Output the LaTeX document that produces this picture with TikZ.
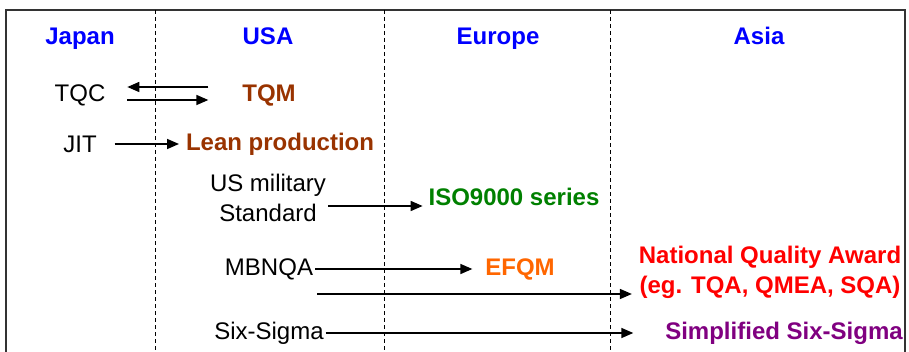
\documentclass[tikz,border=0pt]{standalone}
\usepackage{fontspec}
\setmainfont{Liberation Sans}
\usetikzlibrary{arrows.meta}
\definecolor{hdblue}{RGB}{0,0,255}
\definecolor{usbrown}{RGB}{153,51,0}
\definecolor{eugreen}{RGB}{0,128,0}
\definecolor{euorange}{RGB}{255,102,0}
\definecolor{asred}{RGB}{255,0,0}
\definecolor{aspurple}{RGB}{128,0,128}
\begin{document}
\begin{tikzpicture}[x=0.5pt,y=-0.5pt,
	every node/.style={inner sep=1pt,outer sep=0pt,font=\fontsize{12}{15}\selectfont},
	head/.style={anchor=base,text=hdblue,font=\fontsize{12}{15}\selectfont\bfseries},
	bold/.style={font=\fontsize{12}{15}\selectfont\bfseries},
	arr/.style={line width=0.8pt,-{Triangle[length=6pt,width=5pt]}}]
	\useasboundingbox (0,0) rectangle (909,352);
	% frame and columns
	\draw [line width=0.9pt,black!80] (6,352) -- (6,10) -- (905,10) -- (905,352);
	\foreach \x in {155,384,610}{
	\draw [line width=0.5pt,dash pattern=on 2pt off 1.5pt] (\x,10) -- (\x,352);
	}
	% headings
	\node [head] (japan) at (80,45) {Japan};
	\node [head] (usa) at (268,45) {USA};
	\node [head] (europe) at (498,45) {Europe};
	\node [head] (asia) at (759,45) {Asia};
	% entries
	\node (tqc) at (80,95) {TQC};
	\node [bold,text=usbrown] (tqm) at (269,95) {TQM};
	\node (jit) at (80,144) {JIT};
	\node [bold,text=usbrown] (lean) at (280,144) {Lean production};
	\node [align=center] (usmil) at (268,198) {US military\\Standard};
	\node [bold,text=eugreen] (iso) at (514,197) {ISO9000 series};
	\node (mbnqa) at (269,269) {MBNQA};
	\node [bold,text=euorange] (efqm) at (520,269) {EFQM};
	\node [bold,text=asred,align=center] (nqa) at (770,272) {National Quality Award\\(eg. TQA, QMEA, SQA)};
	\node (six) at (269,333) {Six-Sigma};
	\node [bold,text=aspurple] (simp) at (784,333) {Simplified Six-Sigma};
	% arrows
	\draw [arr,shorten <=16pt,shorten >=10pt] ([yshift=4pt]tqm.west) -- ([yshift=4pt]tqc.east);
	\draw [arr,shorten <=10pt,shorten >=16pt] ([yshift=-2.5pt]tqc.east) -- ([yshift=-2.5pt]tqm.west);
	\draw [arr,shorten <=8pt,shorten >=2.5pt] (jit) -- (lean);
	\draw [arr,shorten >=2pt] ([yshift=-4pt]usmil.east) -- ([yshift=-4.5pt]iso.west);
	\draw [arr,shorten >=5.5pt] (mbnqa) -- (efqm);
	\draw [arr,shorten <=1pt,shorten >=2.5pt] ([yshift=-12.5pt]mbnqa.east) -- ([yshift=-11pt]nqa.west);
	\draw [arr,shorten >=15pt] (six) -- (simp);
\end{tikzpicture}
\end{document}
